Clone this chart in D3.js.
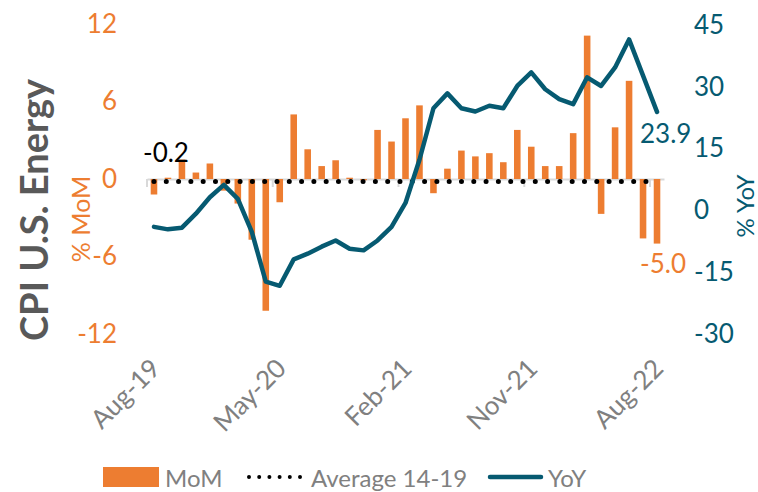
<!DOCTYPE html>
<html>
<head>
<meta charset="utf-8">
<script src="https://cdn.jsdelivr.net/npm/d3@7"></script>
<style>
  body { margin: 0; background: #fff; }
  text { font-family: Lato, 'Open Sans', sans-serif; }
</style>
</head>
<body>
<div id="chart"></div>
<script>
// months, Aug-19 .. Aug-22
const months = ['Aug-19','Sep-19','Oct-19','Nov-19','Dec-19','Jan-20','Feb-20','Mar-20','Apr-20','May-20',
  'Jun-20','Jul-20','Aug-20','Sep-20','Oct-20','Nov-20','Dec-20','Jan-21','Feb-21','Mar-21','Apr-21',
  'May-21','Jun-21','Jul-21','Aug-21','Sep-21','Oct-21','Nov-21','Dec-21','Jan-22','Feb-22','Mar-22',
  'Apr-22','May-22','Jun-22','Jul-22','Aug-22'];
const mom = [-1.2, 0.1, 1.5, 0.5, 1.2, -0.9, -1.9, -4.7, -10.2, -1.8, 5.0, 2.3, 1.0, 1.45, 0.1, -0.1,
  3.8, 2.9, 4.7, 5.7, -1.1, 0.8, 2.2, 1.75, 2.0, 1.3, 3.8, 2.5, 1.0, 1.0, 3.55, 11.1, -2.7, 4.0, 7.6, -4.6, -5.0];
const yoy = [-4.0, -4.6, -4.2, -0.8, 3.2, 6.2, 2.8, -5.2, -17.3, -18.3, -11.9, -10.5, -8.8, -7.3, -9.3, -9.7,
  -7.3, -4.0, 1.8, 12.3, 24.8, 28.4, 24.8, 24.0, 25.4, 24.8, 30.2, 33.5, 29.4, 27.0, 25.8, 32.3, 30.2, 34.7,
  41.5, 32.7, 23.9];
const avg1419 = -0.2;
const leftTicks = [-12, -6, 0, 6, 12];
const rightTicks = [-30, -15, 0, 15, 30, 45];
const xLabels = ['Aug-19', 'May-20', 'Feb-21', 'Nov-21', 'Aug-22'];

const W = 758, H = 492;
const ORANGE = '#ed7d31', TEAL = '#065a71', GREY = '#808080';
const plain = (d) => String(d); // keep hyphen minus like the original

const svg = d3.select('#chart').append('svg')
  .attr('width', W).attr('height', H);

const x = d3.scaleBand().domain(months).range([147, 664]).padding(0);
const yL = d3.scaleLinear().domain([-12, 12]).range([334, 24]);
const yR = d3.scaleLinear().domain([-30, 45]).range([334, 25]);
const cx = d => x(d) + x.bandwidth() / 2;

// x axis on the zero line
const xAxis = svg.append('g')
  .attr('transform', `translate(0,${yL(0)})`)
  .call(d3.axisBottom(x).tickValues(xLabels).tickSize(8).tickSizeOuter(0));
xAxis.select('.domain').attr('stroke', '#d9d9d9').attr('stroke-width', 2);
xAxis.selectAll('.tick line')
  .attr('stroke', '#d9d9d9').attr('stroke-width', 2)
  .attr('x1', -x.bandwidth() / 2).attr('x2', -x.bandwidth() / 2);
xAxis.selectAll('.tick text')
  .attr('y', 0).attr('dy', 0)
  .attr('text-anchor', 'end')
  .attr('transform', `translate(8,${370 - yL(0)}) rotate(-45)`)
  .attr('fill', GREY)
  .style('font-size', '26px');

// left axis
const lAxis = svg.append('g')
  .attr('transform', 'translate(117,0)')
  .call(d3.axisLeft(yL).tickValues(leftTicks).tickFormat(plain).tickSize(0).tickPadding(0));
lAxis.select('.domain').remove();
lAxis.selectAll('text').attr('fill', ORANGE).style('font-size', '26px');

// right axis
const rAxis = svg.append('g')
  .attr('transform', 'translate(694,0)')
  .call(d3.axisRight(yR).tickValues(rightTicks).tickFormat(plain).tickSize(0).tickPadding(0));
rAxis.select('.domain').remove();
rAxis.selectAll('text').attr('fill', TEAL).style('font-size', '26px');

// bars
const bw = x.bandwidth() * 0.47;
svg.append('g').selectAll('rect')
  .data(months)
  .enter()
  .append('rect')
  .attr('x', (d) => cx(d) - bw / 2)
  .attr('width', bw)
  .attr('y', (d, i) => yL(Math.max(0, mom[i])))
  .attr('height', (d, i) => Math.abs(yL(mom[i]) - yL(0)))
  .attr('fill', ORANGE);

// average 14-19 dotted
svg.append('line')
  .attr('x1', cx(months[0])).attr('x2', cx(months[months.length - 1]))
  .attr('y1', yL(avg1419)).attr('y2', yL(avg1419))
  .attr('stroke', '#000').attr('stroke-width', 5)
  .attr('stroke-linecap', 'round')
  .attr('stroke-dasharray', '0 12.3');

// yoy line
svg.append('path')
  .datum(yoy)
  .attr('fill', 'none')
  .attr('stroke', TEAL)
  .attr('stroke-width', 4.5)
  .attr('stroke-linejoin', 'round')
  .attr('stroke-linecap', 'round')
  .attr('d', d3.line().x((d, i) => cx(months[i])).y((d) => yR(d)));

// data labels
const last = months.length - 1;
svg.append('text')
  .attr('x', cx(months[0]) - 11).attr('y', yL(avg1419) - 20)
  .attr('fill', '#000').style('font-size', '26px')
  .text(avg1419.toFixed(1));
svg.append('text')
  .attr('x', cx(months[last]) - 17).attr('y', yR(yoy[last]) + 31)
  .attr('fill', TEAL).style('font-size', '26px')
  .text(yoy[last].toFixed(1));
svg.append('text')
  .attr('x', cx(months[last]) - 17).attr('y', yL(mom[last]) + 29)
  .attr('fill', ORANGE).style('font-size', '26px')
  .text(mom[last].toFixed(1));

// axis titles
svg.append('text')
  .attr('transform', 'translate(48,210) rotate(-90)')
  .attr('text-anchor', 'middle')
  .attr('fill', '#595959')
  .style('font-size', '38px').style('font-weight', 'bold')
  .text('CPI U.S. Energy');
svg.append('text')
  .attr('transform', 'translate(90,219) rotate(-90)')
  .attr('text-anchor', 'middle')
  .attr('fill', ORANGE).style('font-size', '25px')
  .text('% MoM');
svg.append('text')
  .attr('transform', 'translate(754,206) rotate(-90)')
  .attr('text-anchor', 'middle')
  .attr('fill', TEAL).style('font-size', '24px')
  .text('% YoY');

// legend
const lg = svg.append('g').attr('transform', 'translate(0,477)');
lg.append('rect').attr('x', 103).attr('y', -10).attr('width', 56).attr('height', 20).attr('fill', ORANGE);
lg.append('text').attr('x', 165).attr('y', 10).attr('fill', GREY).style('font-size', '24px').text('MoM');
lg.append('line')
  .attr('x1', 249).attr('x2', 300).attr('y1', 0).attr('y2', 0)
  .attr('stroke', '#000').attr('stroke-width', 4)
  .attr('stroke-linecap', 'round').attr('stroke-dasharray', '0 10.2');
lg.append('text').attr('x', 311).attr('y', 10).attr('fill', GREY).style('font-size', '24px').text('Average 14-19');
lg.append('line')
  .attr('x1', 490).attr('x2', 541).attr('y1', 0).attr('y2', 0)
  .attr('stroke', TEAL).attr('stroke-width', 4.5).attr('stroke-linecap', 'round');
lg.append('text').attr('x', 548).attr('y', 10).attr('fill', GREY).style('font-size', '24px').text('YoY');
</script>
</body>
</html>
